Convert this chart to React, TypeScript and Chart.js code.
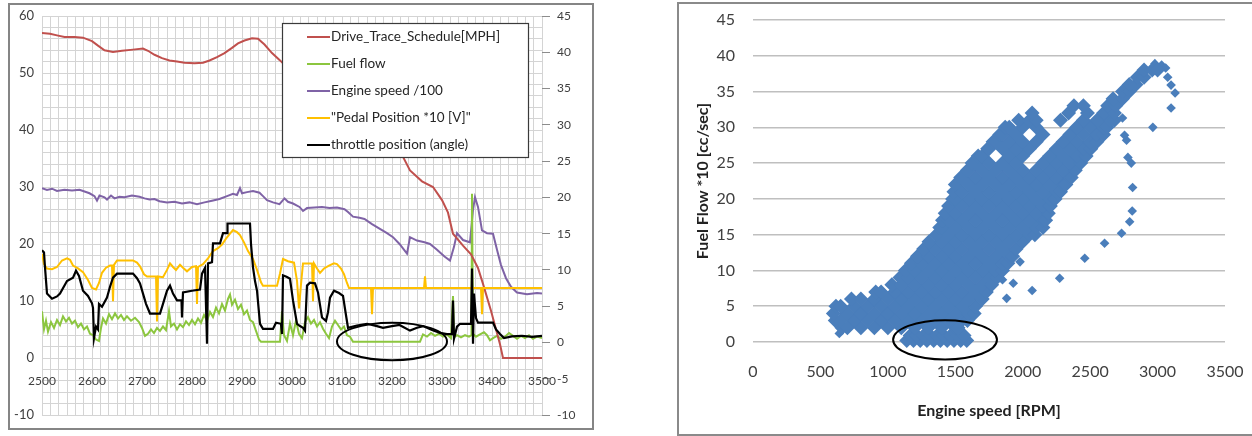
import React, { useEffect, useRef } from "react";
import { Chart, registerables } from "chart.js";

Chart.register(...registerables);
Chart.defaults.font.family = "Lato, 'Open Sans', sans-serif";
Chart.defaults.color = "#404040";

// ---------------- Left chart data (time 2500..3500) ----------------
const timeTickLabels = [2500, 2600, 2700, 2800, 2900, 3000, 3100, 3200, 3300, 3400, 3500];
const leftAxisLabels = [-10, 0, 10, 20, 30, 40, 50, 60];
const rightAxisLabels = [-10, -5, 0, 5, 10, 15, 20, 25, 30, 35, 40, 45];

const seriesNames = [
  "Drive_Trace_Schedule[MPH]",
  "Fuel flow",
  "Engine speed /100",
  "\"Pedal Position *10 [V]\"",
  "throttle position (angle)",
];

const driveTrace: [number, number][] = [
  [2500, 57.0], [2516, 56.9], [2530, 56.6], [2545, 56.3], [2565, 56.3], [2582, 56.2], [2600, 55.6],
  [2612, 54.8], [2625, 54.0], [2642, 53.7], [2660, 53.9], [2682, 54.1], [2702, 54.3], [2712, 53.9],
  [2725, 53.2], [2740, 52.6], [2755, 52.2], [2770, 52.0], [2785, 51.8], [2805, 51.7], [2822, 51.8],
  [2835, 52.2], [2850, 52.8], [2865, 53.5], [2880, 54.4], [2892, 55.2], [2905, 55.7], [2920, 56.1],
  [2932, 56.0], [2945, 55.0], [2960, 53.5], [2975, 52.3], [2990, 51.0], [3010, 49.5], [3040, 47.5],
  [3080, 45.0], [3120, 42.0], [3160, 39.0], [3200, 37.0], [3222, 35.3], [3236, 32.9], [3260, 31.0],
  [3282, 30.0], [3300, 27.7], [3312, 25.5], [3322, 21.8], [3342, 19.7], [3358, 18.2], [3372, 15.8],
  [3382, 13.0], [3398, 8.3], [3416, 2.4], [3422, 0], [3500, 0],
];

const fuelFlow: [number, number][] = [
  [2500, 4.3], [2504, 1.8], [2508, 3.0], [2512, 1.5], [2518, 2.8], [2524, 2.0], [2530, 3.1], [2536, 2.4],
  [2542, 3.6], [2548, 2.9], [2554, 3.4], [2560, 2.6], [2566, 3.0], [2572, 2.1], [2578, 2.6], [2584, 1.8],
  [2590, 2.2], [2596, 1.2], [2602, 1.0], [2608, 0.4], [2614, 0.2], [2618, 2.0], [2622, 3.3], [2628, 2.6],
  [2634, 3.9], [2640, 3.2], [2646, 4.0], [2652, 3.3], [2658, 3.8], [2664, 3.1], [2670, 3.6], [2678, 3.0],
  [2686, 3.4], [2694, 2.8], [2700, 2.0], [2706, 0.9], [2712, 1.2], [2718, 1.8], [2724, 1.3], [2730, 2.0],
  [2736, 1.6], [2742, 2.2], [2748, 1.7], [2754, 4.3], [2758, 2.2], [2764, 2.6], [2770, 1.8], [2776, 2.5],
  [2782, 2.1], [2788, 2.9], [2794, 2.4], [2800, 3.1], [2806, 2.5], [2812, 3.3], [2818, 2.7], [2824, 3.8],
  [2830, 3.0], [2836, 4.2], [2842, 3.5], [2848, 4.8], [2854, 4.0], [2860, 5.3], [2866, 4.4], [2872, 6.0],
  [2876, 6.6], [2880, 5.2], [2886, 5.9], [2892, 4.6], [2898, 5.2], [2904, 3.9], [2910, 4.4], [2916, 3.1],
  [2922, 2.8], [2928, 1.6], [2934, 0.4], [2938, 0.1], [2976, 0.1], [2980, 4.3], [2984, 1.0], [2990, 0.2],
  [2996, 2.6], [3002, 1.0], [3008, 3.0], [3014, 1.2], [3020, 0.6], [3026, 2.8], [3032, 3.5], [3038, 2.6],
  [3044, 3.1], [3050, 2.2], [3056, 2.8], [3062, 1.9], [3068, 1.2], [3074, 0.6], [3080, 2.2], [3086, 3.0],
  [3092, 2.4], [3098, 1.8], [3104, 2.2], [3110, 1.0], [3116, 0.8], [3122, 0.1], [3256, 0.1], [3262, 1.1],
  [3270, 0.8], [3278, 1.3], [3286, 0.9], [3294, 1.2], [3302, 0.8], [3310, 1.1], [3318, 0.6], [3322, 6.4],
  [3324, 0.7], [3330, 1.0], [3338, 0.7], [3346, 1.0], [3354, 0.8], [3359, 1.0], [3360, 20.5], [3362, 1.2],
  [3368, 0.8], [3376, 1.1], [3384, 1.4], [3390, 1.0], [3396, 0.3], [3402, 0.6], [3410, 0.9], [3418, 0.5],
  [3426, 0.8], [3434, 1.3], [3442, 0.9], [3450, 0.5], [3458, 0.9], [3466, 0.6], [3474, 1.0], [3482, 0.5],
  [3490, 0.8], [3500, 0.6],
];

const engineSpeed100: [number, number][] = [
  [2500, 29.8], [2510, 29.5], [2520, 29.7], [2530, 29.3], [2545, 29.5], [2560, 29.4], [2575, 29.5],
  [2585, 29.2], [2595, 28.9], [2605, 28.4], [2610, 27.6], [2615, 28.5], [2625, 28.2], [2630, 27.8],
  [2638, 28.5], [2645, 28.0], [2655, 28.3], [2665, 28.2], [2680, 28.5], [2695, 28.3], [2705, 28.0],
  [2715, 27.8], [2725, 27.9], [2735, 27.5], [2750, 27.3], [2765, 27.4], [2780, 27.1], [2795, 27.3],
  [2810, 27.0], [2825, 27.3], [2840, 27.6], [2855, 27.9], [2870, 28.4], [2882, 28.8], [2890, 28.6],
  [2896, 29.8], [2900, 28.9], [2910, 29.1], [2922, 29.3], [2935, 29.0], [2942, 28.4], [2950, 27.7],
  [2962, 27.3], [2975, 27.0], [2985, 28.0], [2992, 27.4], [3002, 27.1], [3015, 26.5], [3022, 25.8],
  [3030, 26.3], [3045, 26.4], [3060, 26.5], [3075, 26.3], [3090, 26.4], [3105, 26.1], [3112, 25.6],
  [3122, 24.8], [3135, 24.6], [3145, 24.4], [3160, 23.5], [3175, 22.7], [3190, 21.9], [3202, 21.2],
  [3215, 20.0], [3230, 18.3], [3236, 21.2], [3250, 20.6], [3265, 20.3], [3276, 20.0], [3290, 19.0],
  [3305, 17.8], [3316, 17.1], [3324, 19.5], [3330, 21.9], [3342, 20.7], [3356, 20.3], [3362, 26.0],
  [3366, 28.2], [3372, 26.5], [3380, 22.4], [3390, 21.9], [3402, 21.8], [3410, 19.0], [3418, 16.3],
  [3428, 14.0], [3438, 12.5], [3450, 11.5], [3470, 11.2], [3490, 11.4], [3500, 11.3],
];

const pedalPosition10: [number, number][] = [
  [2500, 12.2], [2504, 10.8], [2510, 10.2], [2520, 10.1], [2530, 10.4], [2540, 11.3], [2550, 11.6],
  [2556, 11.4], [2562, 10.6], [2572, 10.2], [2582, 9.7], [2592, 8.6], [2600, 7.5], [2608, 7.3],
  [2614, 8.2], [2620, 9.6], [2628, 10.3], [2636, 10.6], [2640, 10.6], [2642, 5.7], [2644, 10.7],
  [2650, 11.3], [2670, 11.3], [2682, 11.3], [2690, 11.0], [2696, 10.5], [2704, 9.4], [2710, 9.1],
  [2728, 9.1], [2730, 2.9], [2732, 9.1], [2742, 9.0], [2750, 10.0], [2756, 10.9], [2762, 10.4],
  [2768, 10.0], [2776, 10.7], [2782, 10.3], [2790, 9.8], [2800, 10.4], [2808, 10.5], [2810, 5.3],
  [2812, 10.4], [2822, 10.8], [2832, 11.6], [2842, 12.6], [2852, 13.0], [2860, 13.5], [2868, 14.3],
  [2876, 15.0], [2882, 15.5], [2890, 15.2], [2896, 14.8], [2904, 13.8], [2912, 12.6], [2922, 11.5],
  [2930, 10.0], [2938, 8.3], [2942, 7.8], [2970, 7.8], [2976, 9.5], [2982, 11.5], [2992, 11.2],
  [3004, 11.0], [3010, 8.5], [3014, 4.7], [3018, 8.0], [3022, 10.9], [3040, 10.9], [3042, 5.7],
  [3044, 10.9], [3050, 10.2], [3056, 9.6], [3064, 10.2], [3074, 10.6], [3084, 10.9], [3090, 10.8],
  [3098, 10.2], [3104, 9.4], [3110, 8.2], [3114, 7.5], [3158, 7.5], [3160, 3.9], [3162, 7.5],
  [3264, 7.5], [3266, 9.1], [3268, 7.5], [3378, 7.5], [3380, 3.9], [3382, 7.5], [3500, 7.5],
];

const throttleAngle: [number, number][] = [
  [2500, 18.9], [2504, 18.5], [2506, 15.9], [2510, 11.3], [2520, 10.4], [2530, 10.8], [2536, 11.3],
  [2550, 13.5], [2562, 14.1], [2568, 15.3], [2574, 14.4], [2582, 11.8], [2592, 10.9], [2600, 9.6],
  [2602, 8.8], [2604, 3.5], [2608, 5.5], [2612, 5.0], [2614, 9.5], [2620, 9.0], [2630, 10.6],
  [2636, 12.5], [2642, 14.1], [2650, 14.8], [2682, 14.8], [2690, 14.0], [2696, 13.1], [2702, 11.3],
  [2708, 9.5], [2716, 7.8], [2736, 7.8], [2742, 9.5], [2750, 11.8], [2756, 12.7], [2762, 11.3],
  [2770, 10.1], [2779, 10.1], [2780, 7.1], [2782, 11.5], [2800, 11.8], [2816, 12.0], [2820, 14.8],
  [2826, 15.8], [2830, 2.5], [2832, 16.6], [2840, 16.8], [2842, 20.1], [2856, 20.1], [2862, 21.9],
  [2870, 21.9], [2871, 23.6], [2916, 23.6], [2918, 20.0], [2922, 15.9], [2926, 13.5], [2930, 11.8],
  [2936, 6.0], [2942, 5.1], [2962, 5.1], [2968, 6.2], [2978, 6.0], [2980, 4.2], [2982, 14.5],
  [2990, 14.2], [2996, 13.9], [3002, 10.1], [3010, 6.0], [3016, 5.6], [3022, 5.3], [3026, 4.8],
  [3030, 12.7], [3036, 13.2], [3046, 13.1], [3052, 11.5], [3060, 7.1], [3068, 6.5], [3072, 8.0],
  [3076, 10.6], [3084, 11.8], [3094, 11.4], [3102, 10.9], [3108, 7.5], [3112, 5.3], [3130, 5.7],
  [3150, 6.0], [3170, 5.6], [3182, 5.3], [3200, 5.6], [3215, 5.8], [3236, 4.8], [3250, 5.3],
  [3262, 5.6], [3280, 4.9], [3296, 4.4], [3310, 4.2], [3320, 4.2], [3322, 10.1], [3324, 3.4],
  [3330, 5.5], [3336, 6.0], [3358, 6.0], [3360, 15.7], [3362, 2.5], [3364, 11.3], [3368, 7.0],
  [3372, 6.2], [3402, 6.2], [3408, 5.0], [3416, 4.2], [3424, 3.5], [3440, 3.8], [3460, 3.9],
  [3480, 3.7], [3500, 3.9],
];

// annotation ellipse (data units: time, left axis)
const leftEllipse = { cx: 3200, cy: 2.9, rx: 110, ry: 3.3 };

// ---------------- Right chart data (scatter) ----------------
const rpmTickLabels = [0, 500, 1000, 1500, 2000, 2500, 3000, 3500];
const flowTickLabels = [0, 5, 10, 15, 20, 25, 30, 35, 40, 45];

// dense cloud: [fuel flow, engine speeds]
const cloudRows: [number, number[]][] = [
  [0.2, [1140, 1190, 1240, 1290, 1340, 1390, 1440, 1490, 1540, 1585]],
  [0.9, [1165, 1215, 1265, 1315, 1365, 1415, 1465, 1515, 1565]],
  [2, [660, 700, 800, 900, 1000, 1100, 1200, 1300, 1400, 1500, 1520]],
  [3, [610, 650, 750, 850, 950, 1050, 1150, 1250, 1350, 1450, 1550, 1590]],
  [4, [596, 700, 800, 900, 1000, 1100, 1200, 1300, 1400, 1500, 1600, 1640]],
  [5, [615, 650, 750, 850, 950, 1050, 1150, 1250, 1350, 1450, 1550, 1650]],
  [6, [730, 800, 900, 1000, 1100, 1200, 1300, 1400, 1500, 1600, 1700]],
  [7, [910, 950, 1050, 1150, 1250, 1350, 1450, 1550, 1650, 1730]],
  [8, [1030, 1100, 1200, 1300, 1400, 1500, 1600, 1700, 1770]],
  [9, [1090, 1150, 1250, 1350, 1450, 1550, 1650, 1750, 1810]],
  [10, [1130, 1200, 1300, 1400, 1500, 1600, 1700, 1800, 1850]],
  [11, [1175, 1250, 1350, 1450, 1550, 1650, 1750, 1850, 1890]],
  [12, [1220, 1300, 1400, 1500, 1600, 1700, 1800, 1900, 1925]],
  [13, [1265, 1350, 1450, 1550, 1650, 1750, 1850, 1950]],
  [14, [1305, 1400, 1500, 1600, 1700, 1800, 1900, 2000]],
  [15, [1360, 1450, 1550, 1650, 1750, 1850, 1950, 2050, 2090]],
  [16, [1385, 1400, 1500, 1600, 1700, 1800, 1900, 2000, 2100, 2150]],
  [17, [1405, 1450, 1550, 1650, 1750, 1850, 1950, 2050, 2150, 2170]],
  [18, [1425, 1500, 1600, 1700, 1800, 1900, 2000, 2100, 2190]],
  [19, [1450, 1550, 1650, 1750, 1850, 1950, 2050, 2150, 2205]],
  [20, [1480, 1500, 1600, 1700, 1800, 1900, 2000, 2100, 2200, 2240]],
  [21, [1490, 1550, 1650, 1750, 1850, 1950, 2050, 2150, 2250, 2280]],
  [22, [1500, 1600, 1700, 1800, 1900, 2000, 2100, 2200, 2300, 2320]],
  [23, [1540, 1550, 1650, 1750, 1850, 1950, 2050, 2150, 2250, 2350, 2360]],
  [24, [1590, 1600, 1700, 1800, 1900, 2000, 2100, 2200, 2300, 2390]],
  [25, [1625, 1650, 1750, 1850, 1950, 2150, 2250, 2350, 2430]],
  [26, [1670, 1700, 1900, 2000, 2200, 2300, 2400, 2470]],
  [27, [1740, 1750, 1850, 1950, 2050, 2250, 2350, 2450, 2505]],
  [28, [1780, 1800, 1900, 2000, 2100, 2300, 2400, 2500, 2550]],
  [29, [1830, 1850, 1950, 2150, 2350, 2450, 2550, 2600]],
  [30, [1870, 1900, 2000, 2100, 2400, 2500, 2600, 2625]],
  [31, [1970, 2050, 2100, 2280, 2450, 2550, 2650, 2680]],
  [32, [2070, 2340, 2480, 2600, 2680]],
  [33, [2380, 2450, 2630, 2690]],
  [34, [2670, 2740]],
  [35, [2740, 2790]],
  [36, [2790, 2840]],
  [37, [2850, 2900]],
  [38, [2900, 2960, 3000]],
];

// individual / sparse points: [engine speed, fuel flow]
const sparsePoints: [number, number][] = [
  [640, 1.2], [1850, 8.7], [1881, 6.1], [1930, 8.2], [1980, 11.2], [2070, 7.2], [2274, 8.9],
  [2460, 11.7], [2607, 13.8], [2733, 15.2], [2793, 16.8], [2812, 18.3], [2815, 21.6], [2805, 25.0],
  [2780, 25.8], [2770, 28.2], [2755, 28.9], [2740, 31.3], [2965, 30.0], [3100, 32.7], [3130, 34.8],
  [3100, 35.9], [3075, 37.0], [3030, 38.7], [3060, 38.3], [2980, 38.9],
];

const rightEllipse = { cx: 1424, cy: 0.3, rx: 385, ry: 2.75 };

// ---------------- Layout constants ----------------
const LEFT_W = 584;
const LEFT_H = 425;
const RIGHT_W = 572;
const RIGHT_H = 431;

const zeroPad = (s: any) => {
  s.paddingTop = 0;
  s.paddingBottom = 0;
  s.paddingLeft = 0;
  s.paddingRight = 0;
};

const ellipsePlugin = (spec: { cx: number; cy: number; rx: number; ry: number }, yId: string) => ({
  id: "ellipse",
  afterDatasetsDraw(chart: any) {
    const xs = chart.scales.x;
    const ys = chart.scales[yId];
    const cx = xs.getPixelForValue(spec.cx);
    const cy = ys.getPixelForValue(spec.cy);
    const rx = Math.abs(xs.getPixelForValue(spec.cx + spec.rx) - cx);
    const ry = Math.abs(ys.getPixelForValue(spec.cy + spec.ry) - cy);
    const ctx = chart.ctx;
    ctx.save();
    ctx.beginPath();
    ctx.ellipse(cx, cy, rx, ry, 0, 0, Math.PI * 2);
    ctx.strokeStyle = "#000";
    ctx.lineWidth = 2;
    ctx.stroke();
    ctx.restore();
  },
});

const legendPlugin = {
  id: "boxLegend",
  afterDatasetsDraw(chart: any) {
    const ctx = chart.ctx;
    const bx = 274, by = 20, bw = 246, bh = 134;
    ctx.save();
    ctx.fillStyle = "#ffffff";
    ctx.fillRect(bx, by, bw, bh);
    ctx.strokeStyle = "#3a3a3a";
    ctx.lineWidth = 1.2;
    ctx.strokeRect(bx + 0.5, by + 0.5, bw, bh);
    ctx.font = "13.5px Lato, 'Open Sans', sans-serif";
    ctx.textBaseline = "middle";
    ctx.textAlign = "left";
    chart.data.datasets.forEach((ds: any, i: number) => {
      const y = by + 14 + i * 27;
      ctx.beginPath();
      ctx.moveTo(bx + 25, y);
      ctx.lineTo(bx + 48, y);
      ctx.strokeStyle = ds.borderColor;
      ctx.lineWidth = 2;
      ctx.stroke();
      ctx.fillStyle = "#262626";
      ctx.fillText(ds.label, bx + 49, y);
    });
    ctx.restore();
  },
};

function LeftChart() {
  const ref = useRef<HTMLCanvasElement | null>(null);
  useEffect(() => {
    if (!ref.current) return;
    const mk = (label: string, pts: [number, number][], color: string, axis: string, width: number, order: number) => ({
      label,
      data: pts.map(([x, y]) => ({ x, y })),
      borderColor: color,
      backgroundColor: color,
      borderWidth: width,
      pointRadius: 0,
      tension: 0,
      yAxisID: axis,
      order,
    });
    const gridX: number[] = [];
    for (let i = 0; i <= 60; i++) gridX.push(2500 + (i * 100) / 6);
    const gridY: number[] = [];
    for (let v = -10; v <= 60; v += 2) gridY.push(v);
    const chart = new Chart(ref.current, {
      type: "line",
      data: {
        datasets: [
          mk(seriesNames[0], driveTrace, "#c0504d", "y", 2, 3),
          mk(seriesNames[1], fuelFlow, "#8cc63f", "y1", 2, 4),
          mk(seriesNames[2], engineSpeed100, "#7f63a6", "y", 2, 5),
          mk(seriesNames[3], pedalPosition10, "#ffc000", "y1", 2, 2),
          mk(seriesNames[4], throttleAngle, "#000000", "y", 2.2, 1),
        ],
      },
      options: {
        responsive: false,
        animation: false,
        devicePixelRatio: 1,
        layout: { padding: { top: 13, bottom: 13, left: 0, right: 0 } },
        plugins: { legend: { display: false }, tooltip: { enabled: false } },
        scales: {
          x: {
            type: "linear",
            min: 2500,
            max: 3500,
            position: { y: 0 } as any,
            afterBuildTicks: (s: any) => {
              s.ticks = gridX.map((v) => ({ value: v }));
            },
            ticks: {
              autoSkip: false,
              maxRotation: 0,
              padding: 16,
              font: { size: 12 },
              color: "#404040",
              callback: (v: any) => (timeTickLabels.includes(v) ? String(v) : ""),
            },
            grid: { color: "#d4d4d4", lineWidth: 1, drawTicks: false },
            border: { display: false },
            afterFit: zeroPad,
          },
          y: {
            type: "linear",
            position: "left",
            min: -10,
            max: 60,
            afterBuildTicks: (s: any) => {
              s.ticks = gridY.map((v) => ({ value: v }));
            },
            ticks: {
              autoSkip: false,
              padding: 8,
              font: { size: 13 },
              color: "#404040",
              callback: (v: any) => (leftAxisLabels.includes(v) ? String(v) : ""),
            },
            grid: { color: "#d4d4d4", lineWidth: 1, drawTicks: false },
            border: { display: false },
            afterFit: (s: any) => {
              s.width = 34;
              zeroPad(s);
            },
          },
          y1: {
            type: "linear",
            position: "right",
            min: -10,
            max: 45,
            afterBuildTicks: (s: any) => {
              s.ticks = rightAxisLabels.map((v) => ({ value: v }));
            },
            ticks: { autoSkip: false, padding: 7, font: { size: 12 }, color: "#404040" },
            grid: { drawOnChartArea: false, drawTicks: true, tickLength: 8, color: "#8c8c8c" },
            border: { display: false },
            afterFit: (s: any) => {
              s.width = 50;
              zeroPad(s);
            },
          },
        },
      } as any,
      plugins: [ellipsePlugin(leftEllipse, "y"), legendPlugin],
    });
    return () => chart.destroy();
  }, []);
  return <canvas ref={ref} width={LEFT_W} height={LEFT_H} style={{ width: LEFT_W, height: LEFT_H, display: "block" }} />;
}

function RightChart() {
  const ref = useRef<HTMLCanvasElement | null>(null);
  useEffect(() => {
    if (!ref.current) return;
    const cloud: { x: number; y: number }[] = [];
    cloudRows.forEach(([f, speeds]) => speeds.forEach((s) => cloud.push({ x: s, y: f })));
    const chart = new Chart(ref.current, {
      type: "scatter",
      data: {
        datasets: [
          {
            label: "cloud",
            data: cloud,
            pointStyle: "rectRot",
            pointRadius: 7.5,
            backgroundColor: "#4a7ebb",
            borderWidth: 0,
            clip: false,
          },
          {
            label: "sparse",
            data: sparsePoints.map(([x, y]) => ({ x, y })),
            pointStyle: "rectRot",
            pointRadius: 4.8,
            backgroundColor: "#4a7ebb",
            borderWidth: 0,
            clip: false,
          },
        ],
      },
      options: {
        responsive: false,
        animation: false,
        devicePixelRatio: 1,
        layout: { padding: { top: 17, right: 25, left: 0, bottom: 0 } },
        plugins: { legend: { display: false }, tooltip: { enabled: false } },
        scales: {
          x: {
            type: "linear",
            min: 0,
            max: 3500,
            afterBuildTicks: (s: any) => {
              s.ticks = rpmTickLabels.map((v) => ({ value: v }));
            },
            ticks: {
              padding: 20,
              font: { size: 16 },
              color: "#404040",
              maxRotation: 0,
              callback: (v: any) => String(v),
            },
            grid: { display: false, drawTicks: false },
            border: { display: false },
            title: {
              display: true,
              text: "Engine speed [RPM]",
              font: { size: 16, weight: "bold" },
              color: "#222",
              padding: { top: 0, bottom: 14 },
            },
            afterFit: (s: any) => {
              s.height = 92;
              zeroPad(s);
            },
          },
          y: {
            type: "linear",
            min: 0,
            max: 45,
            afterBuildTicks: (s: any) => {
              s.ticks = flowTickLabels.map((v) => ({ value: v }));
            },
            ticks: { padding: 18, font: { size: 16 }, color: "#404040", callback: (v: any) => String(v) },
            grid: { color: "#bfbfbf", lineWidth: 1.6, drawTicks: false },
            border: { display: false },
            title: {
              display: true,
              text: "Fuel Flow *10 [cc/sec]",
              font: { size: 16, weight: "bold" },
              color: "#222",
              padding: { top: 15, bottom: 0 },
            },
            afterFit: (s: any) => {
              s.width = 75;
              zeroPad(s);
            },
          },
        },
      } as any,
      plugins: [ellipsePlugin(rightEllipse, "y")],
    });
    return () => chart.destroy();
  }, []);
  return <canvas ref={ref} width={RIGHT_W} height={RIGHT_H} style={{ width: RIGHT_W, height: RIGHT_H, display: "block" }} />;
}

export default function App() {
  return (
    <div style={{ position: "absolute", left: 0, top: 0, width: 1252, height: 436, background: "#fff", overflow: "hidden" }}>
      <div style={{ position: "absolute", left: 8, top: 3, width: LEFT_W, height: LEFT_H }}>
        <LeftChart />
      </div>
      <div
        style={{
          position: "absolute", left: 8, top: 3, width: LEFT_W + 2, height: LEFT_H + 2,
          border: "2px solid #858585", boxSizing: "border-box", pointerEvents: "none",
        }}
      />
      <div style={{ position: "absolute", left: 678, top: 3, width: RIGHT_W, height: RIGHT_H }}>
        <RightChart />
      </div>
      <div
        style={{
          position: "absolute", left: 677, top: 2, width: 590, height: 434,
          border: "2px solid #8a8a8a", boxSizing: "border-box", pointerEvents: "none",
        }}
      />
    </div>
  );
}
